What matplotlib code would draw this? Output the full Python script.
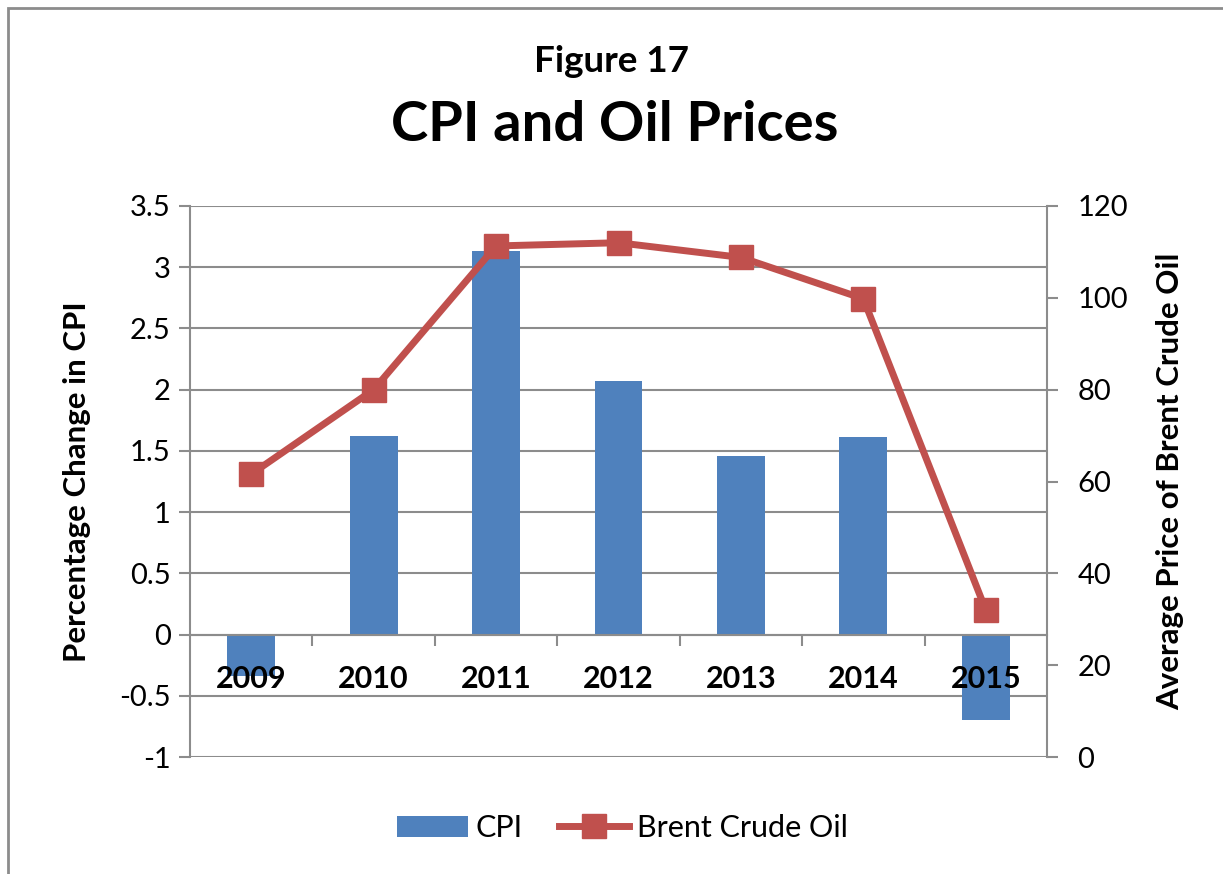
import numpy as np
import matplotlib.pyplot as plt
from matplotlib.patches import Rectangle
from matplotlib.lines import Line2D
from matplotlib.patches import Patch

plt.rcParams['font.family'] = ['Lato', 'DejaVu Sans']

years = ['2009', '2010', '2011', '2012', '2013', '2014', '2015']
cpi = [-0.34, 1.62, 3.13, 2.07, 1.46, 1.61, -0.70]
brent = [61.6, 80.0, 111.3, 112.0, 108.8, 99.8, 32.0]

bar_color = '#4F81BD'
line_color = '#C0504D'
grid_color = '#8C8C8C'

fig = plt.figure(figsize=(12.23, 8.74), dpi=100)
# outer chart border
fig.patches.append(Rectangle((8 / 1223, -0.1), 1.2, 1 - 8 / 874 + 0.1, transform=fig.transFigure,
                             fill=False, edgecolor='#8C8C8C', linewidth=2))

ax = fig.add_axes([190 / 1223, 117 / 874, 857 / 1223, 551 / 874])
x = np.arange(len(years))
ax.bar(x, cpi, width=0.39, color=bar_color, zorder=2)
ax.set_xlim(-0.5, 6.5)
ax.set_ylim(-1, 3.5)
ax.set_yticks(np.arange(-1, 3.51, 0.5))
ax.set_yticklabels(['-1', '-0.5', '0', '0.5', '1', '1.5', '2', '2.5', '3', '3.5'])
ax.grid(axis='y', color=grid_color, linewidth=1.5, zorder=0)
ax.set_axisbelow(True)
ax.xaxis.set_zorder(5)  # year labels sit on top of the negative bars

for s in ['top', 'right']:
    ax.spines[s].set_visible(False)
ax.spines['left'].set_color(grid_color)
ax.spines['left'].set_linewidth(1.5)
ax.spines['bottom'].set_position(('data', 0))
ax.spines['bottom'].set_color(grid_color)
ax.spines['bottom'].set_linewidth(1.5)

ax.set_xticks(x)
ax.set_xticklabels(years, fontsize=22, fontweight='bold')
ax.set_xticks(np.arange(0.5, 6.5, 1), minor=True)
ax.tick_params(axis='x', which='major', length=0, pad=22)
ax.tick_params(axis='x', which='minor', length=8, width=1.5, color=grid_color)
ax.tick_params(axis='y', length=8, width=1.5, color=grid_color, labelsize=21, pad=6)
ax.set_ylabel('Percentage Change in CPI', fontsize=22.5, fontweight='bold', labelpad=20)

ax2 = ax.twinx()
ax2.plot(x, brent, color=line_color, linewidth=5, marker='s', markersize=17,
         markerfacecolor=line_color, markeredgecolor=line_color, zorder=3)
ax2.set_ylim(0, 120)
ax2.set_yticks(np.arange(0, 121, 20))
for s in ['top', 'left', 'bottom']:
    ax2.spines[s].set_visible(False)
ax2.spines['right'].set_color(grid_color)
ax2.spines['right'].set_linewidth(1.5)
ax2.tick_params(axis='y', length=8, width=1.5, color=grid_color, labelsize=21, pad=14)
ax2.set_ylabel('Average Price of Brent Crude Oil', fontsize=22.5, fontweight='bold', labelpad=20)

fig.text(0.5, 1 - 62 / 874, 'Figure 17', ha='center', va='center', fontsize=26.5, fontweight='bold')
fig.text(0.503, 1 - 125 / 874, 'CPI and Oil Prices', ha='center', va='center', fontsize=40.5, fontweight='bold')

handles = [Patch(facecolor=bar_color),
           Line2D([0], [0], color=line_color, linewidth=5, marker='s', markersize=17)]
fig.legend(handles, ['CPI', 'Brent Crude Oil'], loc='center', bbox_to_anchor=(0.509, 1 - 828 / 874),
           ncol=2, frameon=False, fontsize=22, handlelength=2.3, columnspacing=1.2, handletextpad=0.25)

fig.savefig('out.png', dpi=100)
